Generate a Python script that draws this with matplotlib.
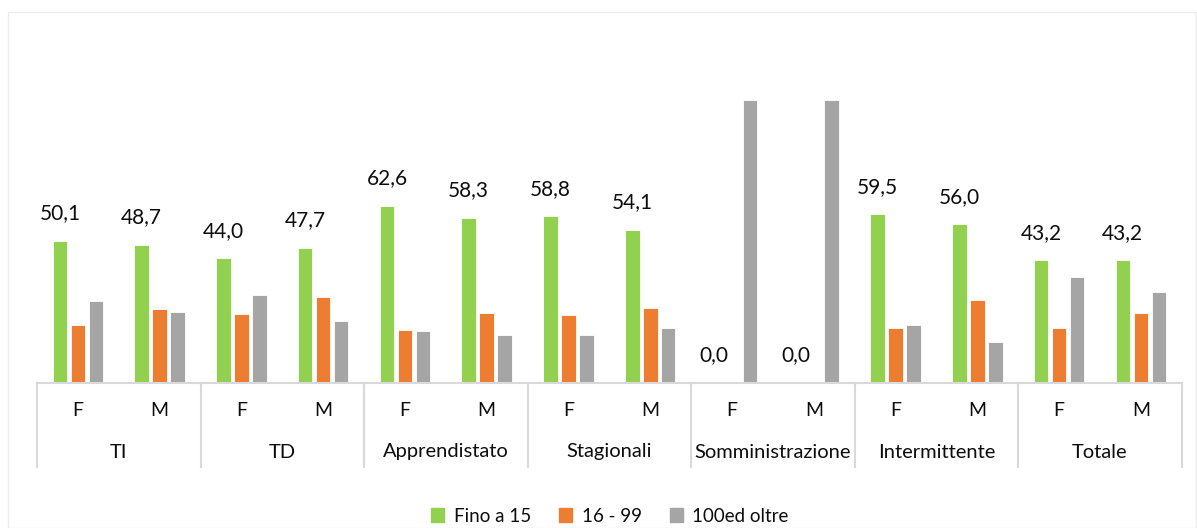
import matplotlib
matplotlib.use("Agg")
import matplotlib.pyplot as plt
from matplotlib.patches import Rectangle
from matplotlib.lines import Line2D
import matplotlib.transforms as mtrans
import numpy as np

categories = ["TI", "TD", "Apprendistato", "Stagionali", "Somministrazione", "Intermittente", "Totale"]
sexes = ["F", "M"]
series_names = ["Fino a 15", "16 - 99", "100ed oltre"]
fino15 = [50.1, 48.7, 44.0, 47.7, 62.6, 58.3, 58.8, 54.1, 0.0, 0.0, 59.5, 56.0, 43.2, 43.2]
da16a99 = [20.4, 26.0, 24.4, 30.2, 18.6, 24.5, 23.9, 26.4, 0.0, 0.0, 19.4, 29.2, 19.2, 24.5]
oltre100 = [29.0, 24.9, 31.1, 21.7, 18.2, 16.8, 16.8, 19.3, 100.0, 100.0, 20.4, 14.3, 37.2, 31.9]
colors = ["#92D050", "#ED7D31", "#A5A5A5"]

plt.rcParams['font.family'] = ['Lato', 'DejaVu Sans']
TXT = "#0d0d0d"
W, H = 1197, 528
fig = plt.figure(figsize=(W / 100, H / 100), dpi=100)

# faint chart border
fig.patches.append(Rectangle((8 / W, 0), (W - 8 - 1) / W, (H - 12) / H, transform=fig.transFigure,
                             fill=False, edgecolor="#ececec", linewidth=1))

left, right = 37, 1181.7
base_y, top_y = 382.7, 382.7 - 120 * 2.83
ax = fig.add_axes([left / W, (H - base_y) / H, (right - left) / W, (base_y - top_y) / H])
ax.set_xlim(-0.5, len(fino15) - 0.5)
ax.set_ylim(0, 120)
ax.axis("off")

x = np.arange(len(fino15))
pitch = 0.22
bw = 0.178
for i, (vals, c) in enumerate(zip([fino15, da16a99, oltre100], colors)):
    ax.bar(x + (i - 1) * pitch, vals, width=bw, color=c, edgecolor="white", linewidth=0.6,
           label=series_names[i], zorder=2)

for xi, v in zip(x, fino15):
    ax.text(xi - pitch, v + 6.2, f"{v:.1f}".replace(".", ","), ha="center", va="bottom",
            fontsize=15, color=TXT)

# category axis
axis_col = "#d9d9d9"
ax.add_line(Line2D([-0.5, len(fino15) - 0.5], [0, 0], color=axis_col, lw=1.5, zorder=3, clip_on=False))
bottom_line_frac = (H - 466.7) / H
blend = mtrans.blended_transform_factory(ax.transData, fig.transFigure)
for k in range(len(categories) + 1):
    xs = -0.5 + 2 * k
    ax.add_line(Line2D([xs, xs], [bottom_line_frac, (H - base_y) / H], transform=blend,
                       color=axis_col, lw=1.5, clip_on=False))
for xi in x:
    ax.text(xi, (H - 411) / H, sexes[xi % 2], transform=blend, ha="center", va="center",
            fontsize=14, color=TXT)
for k, cat in enumerate(categories):
    ax.text(2 * k + 0.5, (H - 452) / H, cat, transform=blend, ha="center", va="center",
            fontsize=14.5, color=TXT)

handles = [Rectangle((0, 0), 1, 1, color=c) for c in colors]
fig.legend(handles, series_names, loc="center", bbox_to_anchor=(610 / W, (H - 516) / H), ncol=3,
           frameon=False, fontsize=13.5, handlelength=0.7, handleheight=0.7, handletextpad=0.5,
           columnspacing=1.5, labelcolor=TXT)

fig.savefig("out.png", dpi=100, facecolor="white")
